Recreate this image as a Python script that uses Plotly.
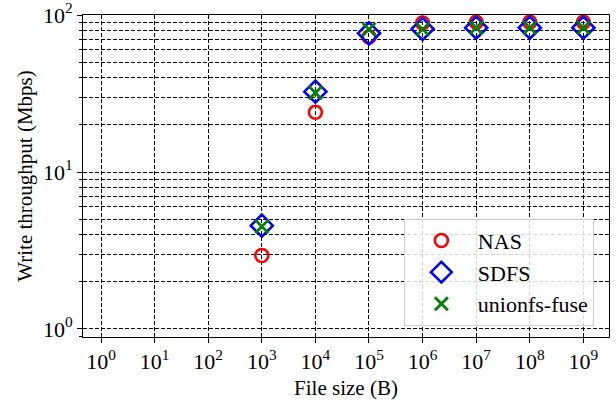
import plotly.graph_objects as go

file_sizes = [1e3, 1e4, 1e5, 1e6, 1e7, 1e8, 1e9]
nas = [2.94, 24.0, 72.5, 89.0, 90.0, 90.0, 90.0]
sdfs = [4.55, 32.5, 76.5, 81.5, 83.0, 83.0, 83.0]
unionfs = [4.5, 32.0, 81.0, 81.0, 83.0, 83.0, 83.0]

x_ticks = [10 ** k for k in range(0, 10)]
x_ticktext = ["10<sup>%d</sup>" % k for k in range(0, 10)]
y_ticks = [1, 10, 100]
y_ticktext = ["10<sup>0</sup>", "10<sup>1</sup>", "10<sup>2</sup>"]
y_minor = [m * 10 ** d for d in range(-1, 2) for m in range(2, 10)]

FONT = "Liberation Serif, Times New Roman, serif"

fig = go.Figure()
fig.add_trace(go.Scatter(
    x=file_sizes, y=nas, mode="markers", name="NAS",
    marker=dict(symbol="circle-open", size=13, color="#ff0000",
                line=dict(width=2.6, color="#ff0000"))))
fig.add_trace(go.Scatter(
    x=file_sizes, y=sdfs, mode="markers", name="SDFS",
    marker=dict(symbol="diamond-open", size=17, color="#0000ff",
                line=dict(width=2.6, color="#0000ff"))))
fig.add_trace(go.Scatter(
    x=file_sizes, y=unionfs, mode="markers", name="unionfs-fuse",
    marker=dict(symbol="x-thin", size=13, color="#008000",
                line=dict(width=2.8, color="#008000"))))

fig.update_layout(
    template="none",
    width=616, height=407,
    margin=dict(l=83, r=7, t=15, b=70, autoexpand=False),
    paper_bgcolor="white", plot_bgcolor="white",
    font=dict(family=FONT, size=21, color="black"),
    showlegend=True,
    legend=dict(x=0.61, y=0.035, xanchor="left", yanchor="bottom",
                bgcolor="rgba(255,255,255,0.85)", bordercolor="#cccccc",
                borderwidth=1, font=dict(size=22, family=FONT),
                itemwidth=63, tracegroupgap=2),
    xaxis=dict(
        type="log", range=[-0.336, 9.478], automargin=False,
        tickvals=x_ticks, ticktext=x_ticktext,
        showgrid=True, gridcolor="black", griddash="4px,2px", gridwidth=1,
        ticks="outside", ticklen=5, tickcolor="black",
        showline=True, linecolor="black", linewidth=1, mirror=True,
        zeroline=False, ticklabeloverflow="allow",
        title=dict(text="File size (B)", standoff=6, font=dict(size=21)),
        tickfont=dict(size=22)),
    yaxis=dict(
        type="log", range=[-0.051, 2.0001], automargin=False,
        tickvals=y_ticks, ticktext=y_ticktext,
        showgrid=True, gridcolor="black", griddash="4px,2px", gridwidth=1,
        ticks="outside", ticklen=5, tickcolor="black",
        minor=dict(tickvals=y_minor, ticks="outside", ticklen=3, tickcolor="black",
                   showgrid=True, gridcolor="black", griddash="4px,2px", gridwidth=1),
        showline=True, linecolor="black", linewidth=1, mirror=True,
        zeroline=False, ticklabeloverflow="allow",
        title=dict(text="Write throughput (Mbps)", standoff=4, font=dict(size=21)),
        tickfont=dict(size=22)),
)

fig.write_html("out.html", config={"displayModeBar": False},
               post_script="document.body.style.margin='0px';document.body.style.overflow='hidden';")
